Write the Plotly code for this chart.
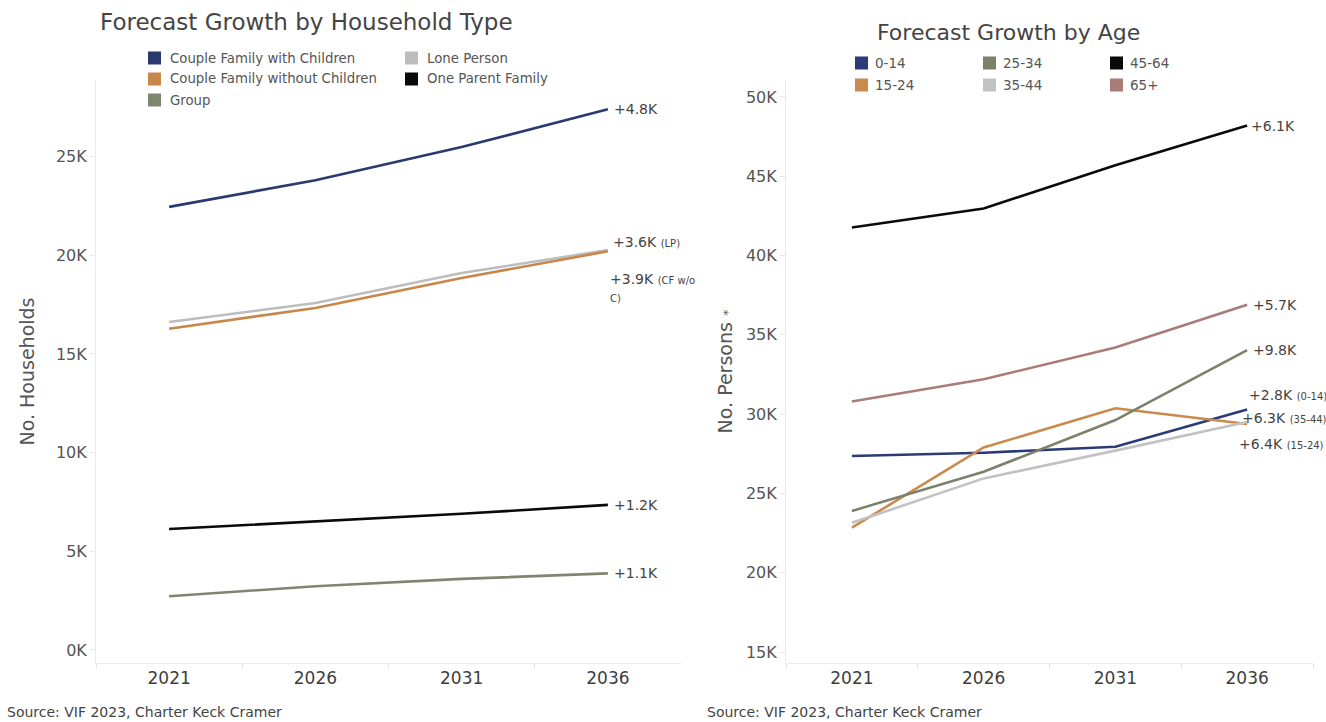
import plotly.graph_objects as go

W, H = 1326, 722
years = ["2021", "2026", "2031", "2036"]

# Household type (number of households)
hh_names = ["Couple Family with Children", "Lone Person", "Couple Family without Children",
            "One Parent Family", "Group"]
hh_colors = ["#2b3a6e", "#bdbdbd", "#c8874a", "#0a0a0a", "#7f8670"]
cf_with_children = [22450, 23800, 25480, 27400]
lone_person = [16620, 17580, 19100, 20260]
cf_without_children = [16280, 17330, 18850, 20200]
one_parent = [6130, 6500, 6900, 7350]
group = [2720, 3230, 3600, 3880]
hh_values = [cf_with_children, lone_person, cf_without_children, one_parent, group]
hh_labels = ["+4.8K", "+3.6K <span style='font-size:10px'>(LP)</span>",
             "+3.9K <span style='font-size:10px'>(CF w/o<br>C)</span>", "+1.2K", "+1.1K"]
hh_label_shift = [0, 8, -36, 0, 0]
hh_label_xshift = [4, 3, 0, 4, 4]

# Age groups (number of persons)
age_names = ["0-14", "15-24", "25-34", "35-44", "45-64", "65+"]
age_colors = ["#2a3b78", "#c98a4b", "#7b8269", "#c2c2c2", "#0a0a0a", "#a97c78"]
age_0_14 = [27360, 27570, 27940, 30300]
age_15_24 = [22840, 27900, 30370, 29380]
age_25_34 = [23900, 26370, 29630, 34040]
age_35_44 = [23150, 25950, 27700, 29500]
age_45_64 = [41770, 42970, 45700, 48200]
age_65p = [30800, 32200, 34200, 36900]
age_values = [age_0_14, age_15_24, age_25_34, age_35_44, age_45_64, age_65p]
age_labels = ["+2.8K <span style='font-size:10px'>(0-14)</span>",
              "+6.4K <span style='font-size:10px'>(15-24)</span>",
              "+9.8K", "+6.3K <span style='font-size:10px'>(35-44)</span>",
              "+6.1K", "+5.7K"]
age_label_shift = [14, -20, 0, 4, 0, 0]
age_label_xshift = [0, -10, 4, -7, 2, 4]

hh_ticks = [0, 5000, 10000, 15000, 20000, 25000]
hh_ticktext = ["0K", "5K", "10K", "15K", "20K", "25K"]
age_ticks = [15000, 20000, 25000, 30000, 35000, 40000, 45000, 50000]
age_ticktext = ["15K", "20K", "25K", "30K", "35K", "40K", "45K", "50K"]

FONT = "DejaVu Sans"
TXT = "#4a4a4a"

fig = go.Figure()
for name, vals, col in zip(hh_names, hh_values, hh_colors):
    fig.add_trace(go.Scatter(x=years, y=vals, mode="lines", name=name,
                             line=dict(color=col, width=2.6), showlegend=False,
                             xaxis="x", yaxis="y"))
for name, vals, col in zip(age_names, age_values, age_colors):
    fig.add_trace(go.Scatter(x=years, y=vals, mode="lines", name=name,
                             line=dict(color=col, width=2.6), showlegend=False,
                             xaxis="x2", yaxis="y2"))

def px_x(p):
    return p / W

def px_y(p):
    return 1 - p / H

ydom = [px_y(663), px_y(80)]
axis_common = dict(showgrid=False, zeroline=False, showline=True, linecolor="#ececec",
                   linewidth=1, ticks="outside", tickcolor="#e6e6e6", ticklen=5)

fig.update_layout(
    width=W, height=H, margin=dict(l=0, r=0, t=0, b=0),
    paper_bgcolor="white", plot_bgcolor="white",
    font=dict(family=FONT, color=TXT),
    xaxis=dict(domain=[px_x(96), px_x(681)], type="category", categoryorder="array",
               categoryarray=years, range=[-0.5, 3.5], tickson="boundaries",
               tickfont=dict(size=17, color="#3e3e3e"), anchor="y", **axis_common),
    yaxis=dict(domain=ydom, range=[-660, 28880], tickvals=hh_ticks, ticktext=hh_ticktext,
               tickfont=dict(size=16, color="#555"), anchor="x",
               title=dict(text="No. Households", font=dict(size=19, color="#555"), standoff=16),
               **axis_common),
    xaxis2=dict(domain=[px_x(786), px_x(1313)], type="category", categoryorder="array",
                categoryarray=years, range=[-0.5, 3.5], tickson="boundaries",
                tickfont=dict(size=17, color="#3e3e3e"), anchor="y2", **axis_common),
    yaxis2=dict(domain=ydom, range=[14310, 51070], tickvals=age_ticks, ticktext=age_ticktext,
                tickfont=dict(size=16, color="#555"), anchor="x2",
                title=dict(text="No. Persons <span style='font-size:13px'>*</span>",
                           font=dict(size=19, color="#555"), standoff=8),
                **axis_common),
)

ann = []
shapes = []
# titles
ann.append(dict(text="Forecast Growth by Household Type", x=px_x(98), y=px_y(22), xref="paper",
                yref="paper", xanchor="left", yanchor="middle", showarrow=False,
                font=dict(size=23, color="#444")))
ann.append(dict(text="Forecast Growth by Age", x=px_x(1008), y=px_y(32), xref="paper",
                yref="paper", xanchor="center", yanchor="middle", showarrow=False,
                font=dict(size=22, color="#444")))
# sources
for xs in (5, 705):
    ann.append(dict(text="Source: VIF 2023, Charter Keck Cramer", x=px_x(xs), y=px_y(712),
                    xref="paper", yref="paper", xanchor="left", yanchor="middle",
                    showarrow=False, font=dict(size=14, color="#444")))

# legend left (2 columns, row-wise)
hh_leg_cols = [148, 405]
hh_leg_rows = [58, 79, 100]
for i, (name, col) in enumerate(zip(hh_names, hh_colors)):
    cx = hh_leg_cols[i % 2]
    cy = hh_leg_rows[i // 2]
    shapes.append(dict(type="rect", xref="paper", yref="paper", x0=px_x(cx), x1=px_x(cx + 13),
                       y0=px_y(cy - 6.5), y1=px_y(cy + 6.5), fillcolor=col, line=dict(width=0)))
    ann.append(dict(text=name, x=px_x(cx + 20), y=px_y(cy), xref="paper", yref="paper",
                    xanchor="left", yanchor="middle", showarrow=False,
                    font=dict(size=13.3, color="#555")))
# legend right (3 columns, column-wise)
age_leg_cols = [855, 983, 1110]
age_leg_rows = [63, 85]
for i, (name, col) in enumerate(zip(age_names, age_colors)):
    cx = age_leg_cols[i // 2]
    cy = age_leg_rows[i % 2]
    shapes.append(dict(type="rect", xref="paper", yref="paper", x0=px_x(cx), x1=px_x(cx + 13),
                       y0=px_y(cy - 6.5), y1=px_y(cy + 6.5), fillcolor=col, line=dict(width=0)))
    ann.append(dict(text=name, x=px_x(cx + 18), y=px_y(cy), xref="paper", yref="paper",
                    xanchor="left", yanchor="middle", showarrow=False,
                    font=dict(size=13.5, color="#555")))

# end labels (category axes: position by category index)
last = len(years) - 1
for vals, lab, ys, xs in zip(hh_values, hh_labels, hh_label_shift, hh_label_xshift):
    ann.append(dict(text=lab, x=last, y=vals[-1], xref="x", yref="y", xanchor="left",
                    yanchor="middle", xshift=xs, yshift=ys, showarrow=False, align="left",
                    font=dict(size=14, color="#444")))
for vals, lab, ys, xs in zip(age_values, age_labels, age_label_shift, age_label_xshift):
    ann.append(dict(text=lab, x=last, y=vals[-1], xref="x2", yref="y2", xanchor="left",
                    yanchor="middle", xshift=xs, yshift=ys, showarrow=False, align="left",
                    font=dict(size=14, color="#444")))

fig.update_layout(annotations=ann, shapes=shapes)
fig.write_html("out.html")
